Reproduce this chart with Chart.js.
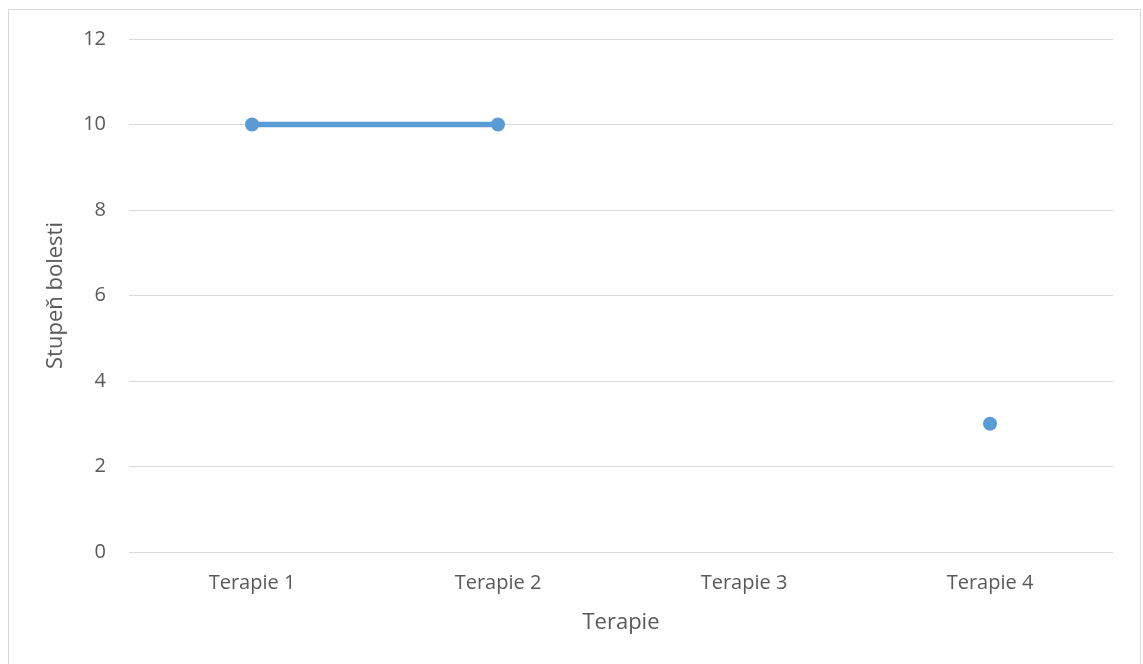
<!DOCTYPE html>
<html>
<head>
<meta charset="utf-8">
<script src="https://cdn.jsdelivr.net/npm/chart.js@4/dist/chart.umd.min.js"></script>
<style>
  html, body { margin: 0; padding: 0; background: #ffffff; overflow: hidden; }
  #wrap { position: relative; width: 1143px; height: 664px; }
  #frame { position: absolute; left: 8px; top: 9px; width: 1133px; height: 700px;
           border: 1px solid #d9d9d9; box-sizing: border-box; pointer-events: none; }
  canvas { position: absolute; left: 0; top: 0; }
</style>
</head>
<body>
<div id="wrap">
  <canvas id="chart" width="1143" height="664"></canvas>
  <div id="frame"></div>
</div>
<script>
// Pain level recorded after each therapy (no value for Terapie 3)
const categories = ['Terapie 1', 'Terapie 2', 'Terapie 3', 'Terapie 4'];
const painLevels = [10, 10, null, 3];
const yMin = 0, yMax = 12, yStep = 2;

const textColor = '#595959';
const gridColor = '#d9d9d9';
const seriesColor = '#5b9bd5';
const fontFamily = '"Open Sans", "Liberation Sans", sans-serif';

new Chart(document.getElementById('chart'), {
  type: 'line',
  data: {
    labels: categories,
    datasets: [{
      label: 'Stupeň bolesti',
      data: painLevels,
      borderColor: seriesColor,
      backgroundColor: seriesColor,
      borderWidth: 5.5,
      pointRadius: 7,
      pointHoverRadius: 7,
      pointBorderWidth: 0,
      pointBackgroundColor: seriesColor,
      spanGaps: false,
      tension: 0,
      fill: false
    }]
  },
  options: {
    responsive: false,
    animation: false,
    events: [],
    layout: { padding: { top: 39, right: 30, bottom: 0, left: 0 } },
    plugins: {
      legend: { display: false },
      tooltip: { enabled: false }
    },
    scales: {
      x: {
        type: 'category',
        offset: true,
        grid: { display: false, drawTicks: false },
        border: { display: false },
        ticks: {
          color: textColor,
          padding: 19,
          maxRotation: 0,
          font: { family: fontFamily, size: 20 }
        },
        title: {
          display: true,
          text: 'Terapie',
          color: textColor,
          padding: { top: 0, bottom: 28 },
          font: { family: fontFamily, size: 22 }
        },
        afterFit: (scale) => { scale.height = 112; }
      },
      y: {
        min: yMin,
        max: yMax,
        grid: { color: gridColor, lineWidth: 1, drawTicks: false },
        border: { display: false },
        ticks: {
          stepSize: yStep,
          color: textColor,
          padding: 23,
          font: { family: fontFamily, size: 20 }
        },
        title: {
          display: true,
          text: 'Stupeň bolesti',
          color: textColor,
          padding: { top: 43, bottom: 0 },
          font: { family: fontFamily, size: 22 }
        },
        afterFit: (scale) => { scale.width = 129; }
      }
    }
  }
});
</script>
</body>
</html>
